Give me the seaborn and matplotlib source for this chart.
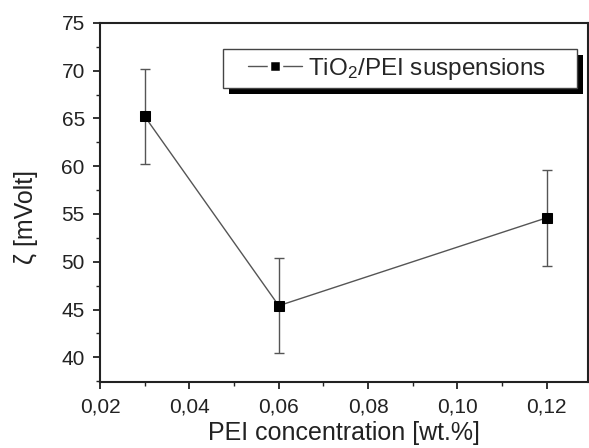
import matplotlib
matplotlib.use("Agg")
import matplotlib.pyplot as plt
import seaborn as sns
import pandas as pd
from matplotlib.ticker import FixedLocator, MultipleLocator
from matplotlib.patches import Rectangle
from matplotlib.lines import Line2D

# data
pei_conc = [0.03, 0.06, 0.12]
zeta = [65.2, 45.4, 54.6]
zeta_err = [5.0, 5.0, 5.0]
series_label = "TiO$_2$/PEI suspensions"
x_ticks = [0.02, 0.04, 0.06, 0.08, 0.10, 0.12]
x_ticklabels = ["0,02", "0,04", "0,06", "0,08", "0,10", "0,12"]
y_ticks = [40, 45, 50, 55, 60, 65, 70, 75]

sns.set_style("ticks")
plt.rcParams["font.family"] = ["Liberation Sans", "DejaVu Sans"]
plt.rcParams["mathtext.default"] = "regular"

df = pd.DataFrame({"x": pei_conc, "y": zeta, "err": zeta_err})

fig = plt.figure(figsize=(5.89, 4.48), dpi=100)
ax = fig.add_axes([0.170, 0.147, 0.828, 0.802])

ax.errorbar(df["x"], df["y"], yerr=df["err"], fmt="none", ecolor="#555555",
            elinewidth=1.0, capsize=3.5, capthick=1.0, zorder=2)
sns.lineplot(data=df, x="x", y="y", ax=ax, color="#555555", linewidth=1.0,
             marker="s", markersize=7, markerfacecolor="black",
             markeredgecolor="black", zorder=3, legend=False)

ax.set_xlim(0.02, 0.1292)
ax.set_ylim(37.4, 75)
ax.xaxis.set_major_locator(FixedLocator(x_ticks))
ax.set_xticklabels(x_ticklabels)
ax.xaxis.set_minor_locator(MultipleLocator(0.01))
ax.yaxis.set_major_locator(FixedLocator(y_ticks))
ax.yaxis.set_minor_locator(MultipleLocator(2.5))

ax.tick_params(which="major", direction="out", length=5, width=1.3,
               labelsize=15, colors="#222222", top=False, right=False, pad=6)
ax.tick_params(which="minor", direction="out", length=3, width=1.0,
               top=False, right=False, colors="#222222")
for s in ax.spines.values():
    s.set_linewidth(1.5)
    s.set_color("#222222")

ax.set_xlabel("PEI concentration [wt.%]", fontsize=18, color="#222222", labelpad=3)
ax.set_ylabel("ζ [mVolt]", fontsize=18, color="#222222")
ax.yaxis.set_label_coords(-0.127, 0.46)

handle = Line2D([], [], color="#555555", linewidth=1.0, marker="s",
                markersize=9, markerfacecolor="black", markeredgecolor="white",
                markeredgewidth=2.5)
leg = ax.legend([handle], [series_label], loc="upper left",
                bbox_to_anchor=(0.290, 0.9276), frameon=False,
                fontsize=17.5, handlelength=2.2, handletextpad=0.25,
                borderpad=0.28, borderaxespad=0)
leg.set_zorder(10)

fig.canvas.draw()
bb = leg.get_window_extent()
inv = ax.transAxes.inverted()
padl, padr = 19, 24
for off, fc, ec, z in [(6, "black", "none", 8), (0, "white", "#444444", 9)]:
    (x0, y0) = inv.transform((bb.x0 - padl + off, bb.y0 - off))
    (x1, y1) = inv.transform((bb.x1 + padr + off, bb.y1 - off))
    ax.add_patch(Rectangle((x0, y0), x1 - x0, y1 - y0, transform=ax.transAxes,
                           facecolor=fc, edgecolor=ec, linewidth=1.0,
                           zorder=z, clip_on=False))

fig.savefig("out.png", dpi=100)
